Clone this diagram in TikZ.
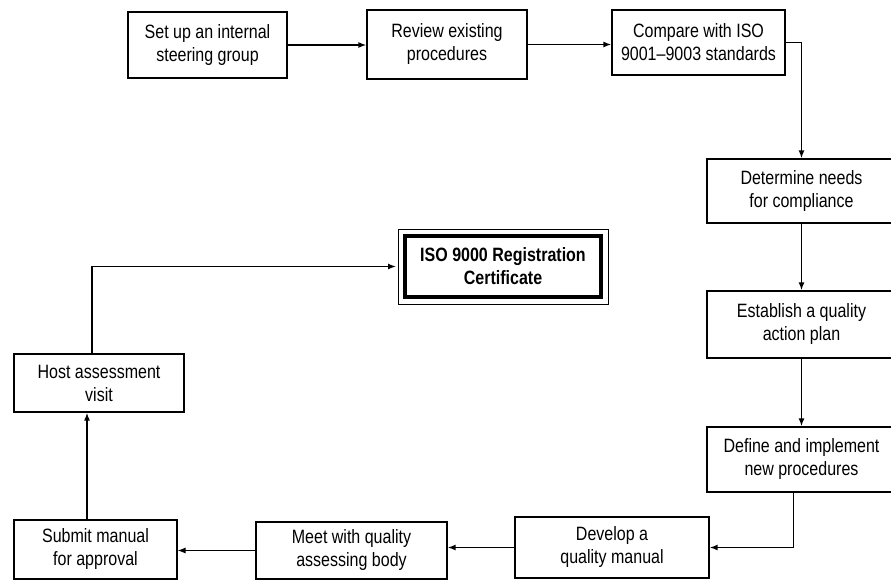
\documentclass[tikz,border=0pt]{standalone}
\usepackage{fontspec}
\setmainfont{Liberation Sans}[FakeStretch=0.83]
\usepackage{tikz}
\usetikzlibrary{arrows.meta,positioning}

\begin{document}
\begin{tikzpicture}[
  x=1pt, y=-1pt,
  stepbox/.style={draw, line width=1.3pt, align=center, inner sep=0pt, font=\fontsize{19.3}{23}\selectfont},
  certbox/.style={draw, line width=4pt, align=center, inner sep=0pt, outer sep=9pt, font=\fontsize{19.3}{23}\selectfont\bfseries},
  arr/.style={-{Latex[length=8pt,width=6pt]}, line width=1.4pt}
]
  \useasboundingbox (0,0) rectangle (891,580);

  % top row
  \node[stepbox, minimum width=159pt, minimum height=66pt] (setup) at (207.5,45) {Set up an internal\\steering group};
  \node[stepbox, minimum width=160pt, minimum height=69pt] (review) at (447,44.5) {Review existing\\procedures};
  \node[stepbox, minimum width=173pt, minimum height=65pt] (compare) at (698.5,42.5) {Compare with ISO\\9001--9003 standards};

  % right column
  \node[stepbox, minimum width=189pt, minimum height=64pt] (needs) at (801.5,191) {Determine needs\\for compliance};
  \node[stepbox, minimum width=189pt, minimum height=67pt] (plan) at (801.5,324.5) {Establish a quality\\action plan};
  \node[stepbox, minimum width=189pt, minimum height=65pt] (define) at (801.5,459.5) {Define and implement\\new procedures};

  % bottom row
  \node[stepbox, minimum width=194pt, minimum height=61pt] (manual) at (612,547.5) {Develop a\\quality manual};
  \node[stepbox, minimum width=191pt, minimum height=57pt] (meet) at (351.5,550.5) {Meet with quality\\assessing body};
  \node[stepbox, minimum width=163pt, minimum height=59pt] (submit) at (95.5,549.5) {Submit manual\\for approval};

  % left side and goal
  \node[stepbox, minimum width=170pt, minimum height=58pt] (host) at (99,383) {Host assessment\\visit};
  \node[certbox, minimum width=196pt, minimum height=61pt] (cert) at (503,266.5) {ISO 9000 Registration\\Certificate};
  \draw[line width=0.8pt] ([shift={(2pt,-2pt)}]cert.north west) rectangle ([shift={(-2pt,2pt)}]cert.south east);

  \draw[arr] (setup.east) -- (setup.east -| review.west);
  \draw[arr] (review.east) -- (review.east -| compare.west);
  \draw[arr] (compare.east) -| (needs.north);
  \draw[arr] (needs) -- (plan);
  \draw[arr] (plan) -- (define);
  \draw[arr] ([xshift=-8pt]define.south) |- (manual.east);
  \draw[arr] (manual.west) -- (manual.west -| meet.east);
  \draw[arr, line width=0.9pt] (meet.west) -- (meet.west -| submit.east);
  \draw[arr] ([xshift=-8.5pt]submit.north) -- ([xshift=-8.5pt]submit.north |- host.south);
  \draw[arr] ([xshift=-7pt]host.north) |- (cert.west);
\end{tikzpicture}
\end{document}
